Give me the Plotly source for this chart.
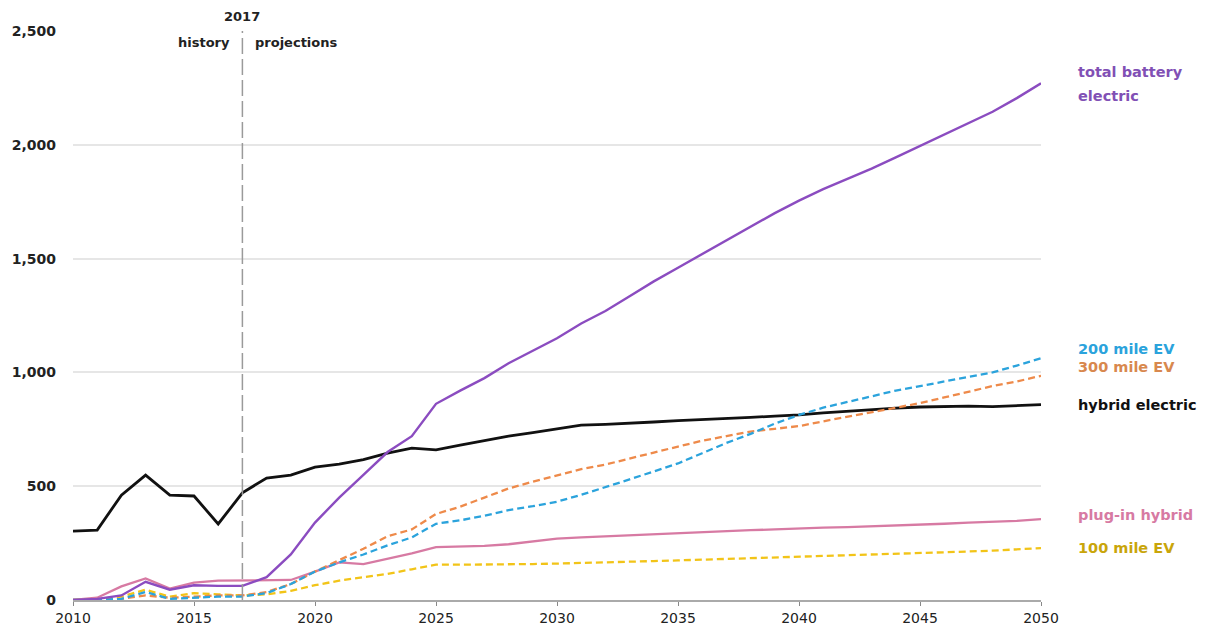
import plotly.graph_objects as go

years = list(range(2010, 2051))

total_battery_electric = [0, 5, 20, 80, 45, 65, 62, 62, 100, 200, 340, 450, 550, 650, 720, 862,
                          920, 975, 1040, 1095, 1150, 1215, 1270, 1335, 1400, 1460, 1520, 1580, 1640, 1700,
                          1755, 1805, 1850, 1895, 1945, 1995, 2045, 2095, 2145, 2205, 2270]
hybrid_electric = [303, 307, 461, 549, 461, 457, 334, 471, 536, 549, 584, 597, 617, 645, 667, 660,
                   680, 700, 720, 735, 750, 768, 772, 776, 782, 788, 792, 796, 802, 808,
                   813, 822, 830, 838, 843, 848, 850, 852, 850, 855, 858]
ev_200 = [0, 0, 5, 35, 5, 10, 15, 15, 30, 70, 125, 165, 200, 240, 275, 335,
          350, 370, 395, 412, 432, 462, 495, 530, 565, 600, 645, 690, 730, 775,
          813, 845, 870, 895, 920, 940, 960, 980, 1000, 1030, 1062]
ev_300 = [0, 0, 5, 20, 10, 15, 20, 20, 35, 70, 125, 175, 225, 280, 310, 378,
          410, 450, 490, 520, 548, 575, 595, 620, 648, 674, 700, 720, 740, 752,
          764, 785, 805, 825, 845, 865, 890, 915, 940, 960, 985]
plug_in_hybrid = [0, 10, 60, 95, 50, 76, 85, 85, 85, 88, 125, 165, 158, 180, 205, 232,
                  235, 238, 245, 258, 270, 275, 280, 285, 290, 295, 300, 303, 307, 310,
                  315, 318, 320, 323, 326, 330, 335, 340, 343, 348, 355]
ev_100 = [0, 0, 15, 45, 15, 30, 25, 20, 25, 40, 65, 85, 100, 115, 135, 155,
          155, 155, 157, 158, 160, 162, 165, 168, 171, 174, 177, 180, 183, 186,
          190, 192, 195, 198, 201, 205, 209, 213, 217, 222, 228]

series = [
    ("hybrid electric", hybrid_electric, "#111111", "solid", 2.8),
    ("plug-in hybrid", plug_in_hybrid, "#d77aa3", "solid", 2.3),
    ("100 mile EV", ev_100, "#f2c418", "7px,4px", 2.3),
    ("300 mile EV", ev_300, "#ee8a4a", "7px,4px", 2.3),
    ("200 mile EV", ev_200, "#2ba3dc", "7px,4px", 2.3),
    ("total battery electric", total_battery_electric, "#8b4cc0", "solid", 2.4),
]

label_texts = ["total battery", "electric", "200 mile EV", "300 mile EV",
               "hybrid electric", "plug-in hybrid", "100 mile EV"]
label_yvals = [2320, 2214, 1103, 1024, 857, 373, 228]
label_colors = ["#8150b5", "#8150b5", "#2ba3dc", "#d8884e", "#111111", "#d77aa3", "#c9a50a"]

fig = go.Figure()
for name, vals, color, dash, w in series:
    fig.add_trace(go.Scatter(x=years, y=vals, mode="lines", name=name,
                             line=dict(color=color, width=w, dash=dash),
                             cliponaxis=False))

font_family = "DejaVu Sans, Verdana, sans-serif"
for text, yv, color in zip(label_texts, label_yvals, label_colors):
    fig.add_annotation(x=2050, y=yv, xref="x", yref="y", text="<b>" + text + "</b>",
                       showarrow=False, xanchor="left", xshift=35, align="left",
                       font=dict(size=14.5, color=color, family=font_family))

fig.add_shape(type="line", x0=2017, x1=2017, y0=0, y1=2500, xref="x", yref="y",
              line=dict(color="#9a9a9a", width=1.5, dash="16px,5px"))
fig.add_annotation(x=2017, y=2500, text="<b>2017</b>", showarrow=False, yanchor="bottom",
                   yshift=5, font=dict(size=13, color="#222", family=font_family))
fig.add_annotation(x=2017, y=2500, text="<b>history</b>", showarrow=False, xanchor="right",
                   yanchor="top", xshift=-10, yshift=-2, font=dict(size=13, color="#222", family=font_family))
fig.add_annotation(x=2017, y=2500, text="<b>projections</b>", showarrow=False, xanchor="left",
                   yanchor="top", xshift=11, yshift=-2, font=dict(size=13, color="#222", family=font_family))

fig.update_layout(
    width=1194, height=618,
    margin=dict(l=65, r=161, t=23, b=26, autoexpand=False),
    paper_bgcolor="white", plot_bgcolor="white",
    showlegend=False,
    font=dict(family=font_family, size=14, color="#222"),
)
fig.update_xaxes(range=[2010, 2050], tickvals=list(range(2010, 2051, 5)),
                 ticks="outside", ticklen=4, tickcolor="#888", showgrid=False,
                 showline=True, linecolor="#aaaaaa", linewidth=2, automargin=False,
                 tickfont=dict(size=14, color="#222", family=font_family),
                 tickprefix="<b>", ticksuffix="</b>")
fig.update_yaxes(range=[0, 2500], tickvals=[0, 500, 1000, 1500, 2000, 2500],
                 ticktext=["<b>0</b>", "<b>500</b>", "<b>1,000</b>", "<b>1,500</b>", "<b>2,000</b>", "<b>2,500</b>"],
                 showgrid=True, gridcolor="#e6e6e6", gridwidth=1.5, zeroline=False,
                 ticks="", ticklabelstandoff=16, automargin=False,
                 tickfont=dict(size=14, color="#222", family=font_family))

fig.write_html("out.html")
